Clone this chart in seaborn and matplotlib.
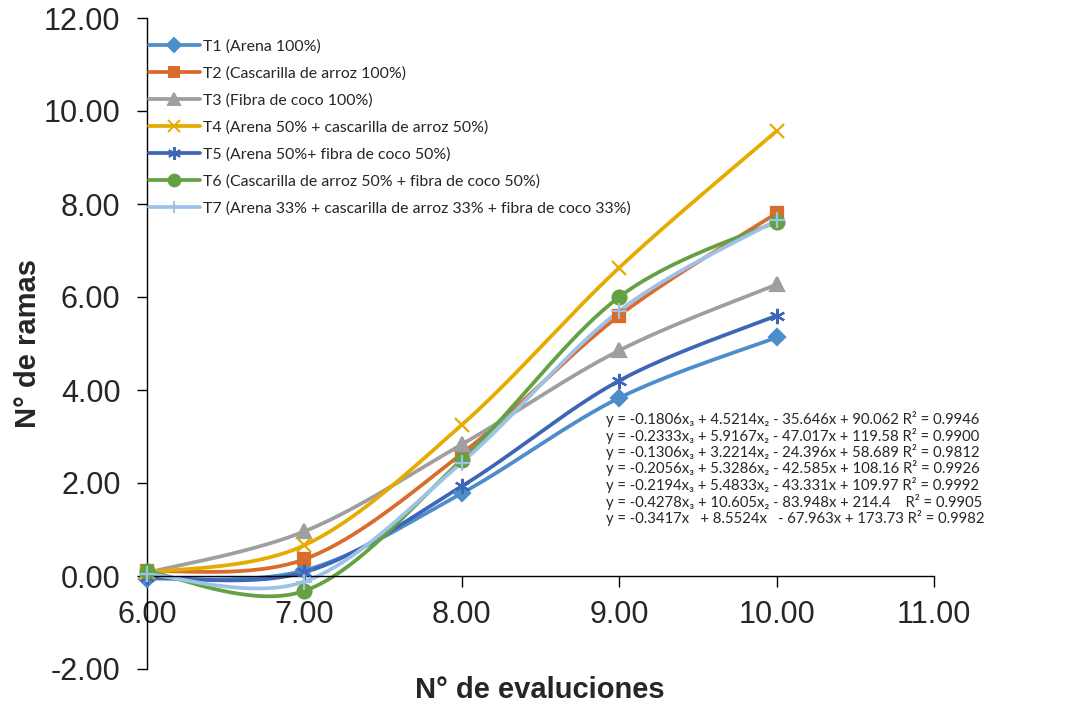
import numpy as np
import matplotlib
matplotlib.use('Agg')
import matplotlib.pyplot as plt
import seaborn as sns
from matplotlib.lines import Line2D
from matplotlib.ticker import FormatStrFormatter

# ---------------- data ----------------
evaluaciones = [6, 7, 8, 9, 10]
t1 = [-0.06, 0.12, 1.78, 3.83, 5.13]
t2 = [0.10, 0.36, 2.63, 5.60, 7.80]
t3 = [0.07, 0.96, 2.83, 4.85, 6.27]
t4 = [0.07, 0.66, 3.25, 6.63, 9.57]
t5 = [-0.03, 0.08, 1.93, 4.20, 5.60]
t6 = [0.10, -0.32, 2.50, 6.00, 7.62]
t7 = [0.04, -0.12, 2.44, 5.70, 7.65]
series = [t1, t2, t3, t4, t5, t6, t7]

labels = [
    "T1 (Arena 100%)",
    "T2 (Cascarilla de arroz 100%)",
    "T3 (Fibra de coco 100%)",
    "T4 (Arena 50% + cascarilla de arroz 50%)",
    "T5 (Arena 50%+ fibra de coco 50%)",
    "T6 (Cascarilla de arroz 50% + fibra de coco 50%)",
    "T7 (Arena 33% + cascarilla de arroz 33% + fibra de coco 33%)",
]
equations = [
    "y = -0.1806x\u2083 + 4.5214x\u2082 - 35.646x + 90.062 R\u00b2 = 0.9946",
    "y = -0.2333x\u2083 + 5.9167x\u2082 - 47.017x + 119.58 R\u00b2 = 0.9900",
    "y = -0.1306x\u2083 + 3.2214x\u2082 - 24.396x + 58.689 R\u00b2 = 0.9812",
    "y = -0.2056x\u2083 + 5.3286x\u2082 - 42.585x + 108.16 R\u00b2 = 0.9926",
    "y = -0.2194x\u2083 + 5.4833x\u2082 - 43.331x + 109.97 R\u00b2 = 0.9992",
    "y = -0.4278x\u2083 + 10.605x\u2082 - 83.948x + 214.4    R\u00b2 = 0.9905",
    "y = -0.3417x   + 8.5524x   - 67.963x + 173.73 R\u00b2 = 0.9982",
]
xticks = [6, 7, 8, 9, 10, 11]
yticks = [-2, 0, 2, 4, 6, 8, 10, 12]

colors = ["#4C8DCB", "#D96B2B", "#9F9F9F", "#E5AB00", "#3D66B6", "#64A143", "#9DC2E8"]
markers = ["D", "s", "^", "x", (6, 2, 0), "o", "+"]
msizes = [8, 9, 9.5, 10, 11, 10, 11]

# ---------------- style ----------------
sns.set_style("white")
plt.rcParams["font.family"] = ["Liberation Sans", "DejaVu Sans"]

fig = plt.figure(figsize=(10.92, 7.06), dpi=100)
ax = fig.add_axes([147 / 1092, 1 - 669 / 706, (934 - 147) / 1092, (669 - 18) / 706])


def smooth(xs, ys, n=40):
    """Excel-like smoothed line (Catmull-Rom Bezier) through the data points."""
    P = np.column_stack([xs, ys]).astype(float)
    out = []
    for i in range(len(P) - 1):
        p0 = P[i - 1] if i > 0 else P[i]
        p1, p2 = P[i], P[i + 1]
        p3 = P[i + 2] if i + 2 < len(P) else P[i + 1]
        c1 = p1 + (p2 - p0) / 6
        c2 = p2 - (p3 - p1) / 6
        t = np.linspace(0, 1, n)[:, None]
        seg = (1 - t) ** 3 * p1 + 3 * (1 - t) ** 2 * t * c1 + 3 * (1 - t) * t ** 2 * c2 + t ** 3 * p2
        out.append(seg if i == 0 else seg[1:])
    return np.vstack(out)


handles = []
for ys, lab, c, m, ms in zip(series, labels, colors, markers, msizes):
    curve = smooth(evaluaciones, ys)
    sns.lineplot(x=curve[:, 0], y=curve[:, 1], sort=False, estimator=None,
                 color=c, linewidth=2.7, ax=ax, clip_on=False)
    ax.plot(evaluaciones, ys, linestyle="none", marker=m, markersize=ms,
            color=c, markeredgecolor=c, markeredgewidth=1.6, clip_on=False, zorder=3)
    handles.append(Line2D([0], [0], color=c, linewidth=2.7, marker=m, markersize=ms * 0.85,
                          markeredgecolor=c, markeredgewidth=1.4))

ax.set_xlim(6, 11)
ax.set_ylim(-2, 12)
ax.set_xticks(xticks)
ax.set_yticks(yticks)
ax.xaxis.set_major_formatter(FormatStrFormatter("%.2f"))
ax.yaxis.set_major_formatter(FormatStrFormatter("%.2f"))

ax.spines["top"].set_visible(False)
ax.spines["right"].set_visible(False)
ax.spines["bottom"].set_position(("data", 0))
for s in ("left", "bottom"):
    ax.spines[s].set_color("black")
    ax.spines[s].set_linewidth(1.0)

ax.tick_params(axis="y", direction="out", length=7, width=1, color="black",
               pad=12, labelsize=22, left=True)
ax.tick_params(axis="x", direction="out", length=8, width=1, color="black",
               pad=9, labelsize=22, bottom=True)

ax.set_xlabel("")
ax.set_ylabel("")
fig.text(28 / 1092, 1 - 344 / 706, "N\u00b0 de ramas", rotation=90, ha="center", va="center",
         fontsize=21, fontweight="bold")
fig.text(540 / 1092, 1 - 690 / 706, "N\u00b0 de evaluciones", ha="center", va="center",
         fontsize=21, fontweight="bold")

leg = ax.legend(handles, labels, loc="upper left",
                bbox_to_anchor=(149 / 1092, 1 - 39 / 706), bbox_transform=fig.transFigure,
                frameon=False, borderpad=0, borderaxespad=0, handlelength=3.2,
                handletextpad=0.2, labelspacing=0.8,
                prop={"family": ["Lato", "DejaVu Sans"], "size": 11.4})

for i, eq in enumerate(equations):
    fig.text(606 / 1092, 1 - (419 + i * 16.5) / 706, eq, ha="left", va="center",
             fontsize=10.7, family=["Lato", "DejaVu Sans"])

fig.savefig("out.png", dpi=100)
